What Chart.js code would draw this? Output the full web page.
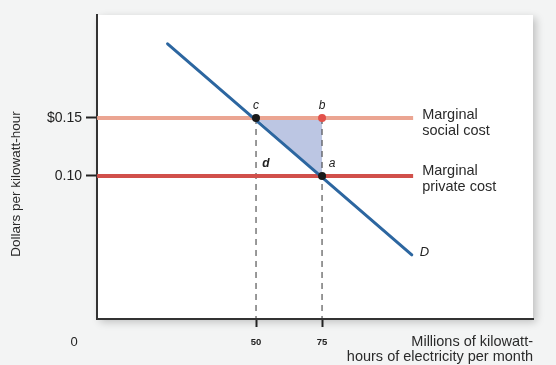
<!DOCTYPE html>
<html>
<head>
<meta charset="utf-8">
<script src="https://cdn.jsdelivr.net/npm/chart.js@4.4.1/dist/chart.umd.min.js"></script>
<style>
  html, body { margin: 0; padding: 0; background: #f3f4f4; }
  #wrap { width: 556px; height: 365px; position: relative; }
</style>
</head>
<body>
<div id="wrap"><canvas id="externalityChart" width="556" height="365"></canvas></div>
<script>
// data (schematic)
var quantityTicks = [50, 75];
var priceTicks = [0.10, 0.15];
var socialCost = 0.15;
var privateCost = 0.10;
var costLineStart = -10.2;
var costLineEnd = 109.5;
var demandX = [16.5, 109];
var demandY = [0.214, 0.032];
var pointC = [50, 0.15];
var pointB = [75, 0.15];
var pointA = [75, 0.10];

var X_MIN = -10.23, X_MAX = 154.9;
var Y_MIN = -0.0233, Y_MAX = 0.2388;

var FONT = '"Liberation Sans", Arial, sans-serif';

// white panel behind the plot
var panelBg = {
    id: 'panelBg',
    beforeDraw: function(chart) {
        var c = chart.ctx, a = chart.chartArea;
        c.save();
        c.shadowColor = 'rgba(0,0,0,0.22)';
        c.shadowBlur = 8;
        c.shadowOffsetX = 3;
        c.shadowOffsetY = 3;
        c.fillStyle = '#ffffff';
        c.fillRect(a.left, a.top, a.right - a.left, a.bottom - a.top);
        c.restore();
    }
};

// text annotations
var labels = {
    id: 'labels',
    afterDraw: function(chart) {
        var c = chart.ctx;
        var x = chart.scales.x, y = chart.scales.y;
        c.save();
        c.fillStyle = '#222';
        c.font = 'italic 12px ' + FONT;
        c.textAlign = 'center';
        c.textBaseline = 'alphabetic';
        c.fillText('c', x.getPixelForValue(pointC[0]), y.getPixelForValue(pointC[1]) - 9);
        c.fillText('b', x.getPixelForValue(pointB[0]), y.getPixelForValue(pointB[1]) - 9);
        c.font = 'bold italic 12px ' + FONT;
        c.fillText('d', x.getPixelForValue(pointC[0]) + 10, y.getPixelForValue(pointA[1]) - 9);
        c.font = 'italic 12px ' + FONT;
        c.fillText('a', x.getPixelForValue(pointA[0]) + 10, y.getPixelForValue(pointA[1]) - 9);
        c.textAlign = 'left';
        c.font = 'italic 13px ' + FONT;
        c.fillText('D', x.getPixelForValue(demandX[1]) + 8, y.getPixelForValue(demandY[1]) + 1);

        c.fillStyle = '#2a2a2a';
        c.font = '14.5px ' + FONT;
        var lx = x.getPixelForValue(costLineEnd) + 9;
        c.fillText('Marginal', lx, y.getPixelForValue(socialCost) + 1);
        c.fillText('social cost', lx, y.getPixelForValue(socialCost) + 17);
        c.fillText('Marginal', lx, y.getPixelForValue(privateCost) - 1);
        c.fillText('private cost', lx, y.getPixelForValue(privateCost) + 15);

        // axis titles
        c.textAlign = 'right';
        c.fillText('Millions of kilowatt-', 533, 346);
        c.fillText('hours of electricity per month', 533, 361);
        c.textAlign = 'center';
        c.fillStyle = '#222';
        c.font = '13px ' + FONT;
        c.fillText('0', 74, 346);

        c.translate(20, 184);
        c.rotate(-Math.PI / 2);
        c.fillStyle = '#2a2a2a';
        c.font = '13.5px ' + FONT;
        c.fillText('Dollars per kilowatt-hour', 0, 0);
        c.restore();
    }
};

var ctx = document.getElementById('externalityChart').getContext('2d');

function seg(x1, y1, x2, y2) {
    return [{x: x1, y: y1}, {x: x2, y: y2}];
}

new Chart(ctx, {
    type: 'scatter',
    data: {
        datasets: [
            {
                label: 'c a',
                data: [{x: pointC[0], y: pointC[1]}, {x: pointA[0], y: pointA[1]}],
                pointRadius: 4,
                pointBackgroundColor: '#1a1a1a',
                pointBorderWidth: 0
            },
            {
                label: 'b',
                data: [{x: pointB[0], y: pointB[1]}],
                pointRadius: 4,
                pointBackgroundColor: '#e2514a',
                pointBorderWidth: 0
            },
            {
                label: 'Demand',
                data: seg(demandX[0], demandY[0], demandX[1], demandY[1]),
                showLine: true,
                borderColor: '#2c66a0',
                borderWidth: 3,
                borderCapStyle: 'round',
                pointRadius: 0
            },
            {
                label: 'Marginal private cost',
                data: seg(costLineStart, privateCost, costLineEnd, privateCost),
                showLine: true,
                borderColor: '#d1504b',
                borderWidth: 4,
                pointRadius: 0
            },
            {
                label: 'Marginal social cost',
                data: seg(costLineStart, socialCost, costLineEnd, socialCost),
                showLine: true,
                borderColor: '#eba592',
                borderWidth: 4,
                pointRadius: 0
            },
            {
                label: 'dash c',
                data: seg(pointC[0], pointC[1], pointC[0], Y_MIN),
                showLine: true,
                borderColor: '#333',
                borderWidth: 1,
                borderDash: [6, 5],
                pointRadius: 0
            },
            {
                label: 'dash b',
                data: seg(pointB[0], pointB[1], pointB[0], Y_MIN),
                showLine: true,
                borderColor: '#333',
                borderWidth: 1,
                borderDash: [6, 5],
                pointRadius: 0
            },
            {
                label: 'Deadweight loss',
                data: [
                    {x: pointC[0], y: pointC[1]},
                    {x: pointB[0], y: pointB[1]},
                    {x: pointA[0], y: pointA[1]},
                    {x: pointC[0], y: pointC[1]}
                ],
                showLine: true,
                borderWidth: 0,
                pointRadius: 0,
                fill: 'shape',
                backgroundColor: '#bcc6e3'
            }
        ]
    },
    options: {
        responsive: false,
        animation: false,
        layout: { padding: { top: 15, right: 23, left: 0, bottom: 0 } },
        plugins: {
            legend: { display: false },
            tooltip: { enabled: false }
        },
        scales: {
            x: {
                type: 'linear',
                min: X_MIN,
                max: X_MAX,
                afterBuildTicks: function(scale) {
                    scale.ticks = quantityTicks.map(function(v) { return {value: v}; });
                },
                afterFit: function(scale) { scale.height = 46; },
                border: { display: true, color: '#333', width: 2 },
                grid: {
                    drawOnChartArea: false,
                    drawTicks: true,
                    tickLength: 8,
                    tickWidth: 2,
                    tickColor: '#222'
                },
                ticks: {
                    color: '#222',
                    padding: 10,
                    maxRotation: 0,
                    font: { size: 9.5, weight: 'bold', family: FONT }
                }
            },
            y: {
                type: 'linear',
                min: Y_MIN,
                max: Y_MAX,
                afterBuildTicks: function(scale) {
                    scale.ticks = priceTicks.map(function(v) { return {value: v}; });
                },
                afterFit: function(scale) { scale.width = 97; },
                border: { display: true, color: '#333', width: 2 },
                grid: {
                    drawOnChartArea: false,
                    drawTicks: true,
                    tickLength: 11,
                    tickWidth: 2,
                    tickColor: '#222'
                },
                ticks: {
                    color: '#222',
                    padding: 4,
                    font: { size: 14, family: FONT },
                    callback: function(v) {
                        return v === 0.15 ? '$0.15' : v.toFixed(2);
                    }
                }
            }
        }
    },
    plugins: [panelBg, labels]
});
</script>
</body>
</html>
